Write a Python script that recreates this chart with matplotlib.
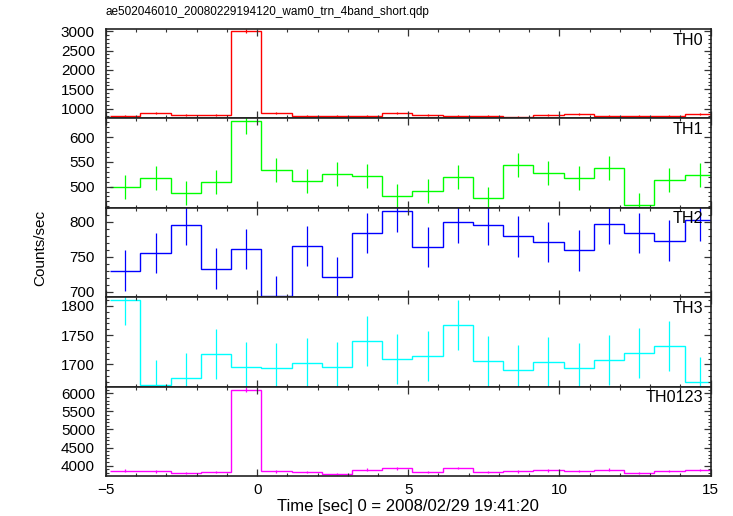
import numpy as np
import matplotlib
matplotlib.use("Agg")
import matplotlib.pyplot as plt
from matplotlib.ticker import MultipleLocator

plt.rcParams['font.family'] = ['Liberation Sans', 'DejaVu Sans']

# bin edges of the light curves (1 s bins)
t0 = -4.86
n_bins = 20
edges = t0 + np.arange(n_bins + 1) * 1.0
centers = edges[:-1] + 0.5

title = "ae502046010_20080229194120_wam0_trn_4band_short.qdp"
bands = ["TH0", "TH1", "TH2", "TH3", "TH0123"]
colors = ["#ff0000", "#00ff00", "#0000ff", "#00ffff", "#ff00ff"]

th0 = [807, 893, 824, 824, 3017, 884, 807, 807, 807, 893,
       833, 807, 815, 790, 841, 867, 807, 807, 807, 867]
th0_err = [25] * 20
th0_err[4] = 50

th1 = [499, 518, 487, 509, 633, 533, 511, 525, 521, 481,
       491, 520, 476, 543, 527, 517, 537, 463, 513, 524]
th1_err = [24] * 20
th1_err[4] = 27

th2 = [730, 755, 796, 733, 761, 694, 765, 721, 784, 815,
       764, 799, 796, 779, 771, 759, 797, 784, 773, 802]
th2_err = [29] * 20

th3 = [1810, 1665, 1677, 1718, 1696, 1694, 1702, 1696, 1740, 1709,
       1715, 1767, 1706, 1691, 1704, 1693, 1707, 1719, 1731, 1670]
th3_err = [43] * 20

th0123 = [3860, 3842, 3797, 3815, 6105, 3842, 3815, 3770, 3887, 3923,
          3824, 3932, 3824, 3842, 3869, 3851, 3887, 3797, 3851, 3878]
th0123_err = [35] * 20
th0123_err[4] = 70

values = [th0, th1, th2, th3, th0123]
errors = [th0_err, th1_err, th2_err, th3_err, th0123_err]
ylims = [(745, 3060), (457, 638), (692, 820), (1662, 1815), (3710, 6190)]
majors = [500, 50, 50, 50, 500]
minors = [100, 10, 10, 10, 100]

fig = plt.figure(figsize=(7.33, 5.16), dpi=100)

left = 106 / 733
width = 604.5 / 733
top = 1 - 29 / 516
bottom = 1 - 476 / 516
h = (top - bottom) / 5

axes = []
for i in range(5):
    ax = fig.add_axes([left, top - (i + 1) * h, width, h])
    axes.append(ax)
    ax.stairs(values[i], edges, baseline=None, color=colors[i], linewidth=1.0)
    ax.errorbar(centers, values[i], yerr=errors[i], fmt='none',
                ecolor=colors[i], elinewidth=0.9, capsize=0)
    ax.set_xlim(-5, 15)
    ax.set_ylim(*ylims[i])
    ax.xaxis.set_major_locator(MultipleLocator(5))
    ax.xaxis.set_minor_locator(MultipleLocator(1))
    ax.yaxis.set_major_locator(MultipleLocator(majors[i]))
    ax.yaxis.set_minor_locator(MultipleLocator(minors[i]))
    ax.tick_params(which='both', direction='in', top=True, right=True,
                   color='#333333', labelsize=11)
    ax.tick_params(which='major', length=5, width=0.9)
    ax.tick_params(which='minor', length=2.5, width=0.8)
    ax.tick_params(axis='y', pad=8)
    ax.tick_params(axis='x', pad=5)
    for s in ax.spines.values():
        s.set_linewidth(1.2)
        s.set_color('#222222')
    ax.text(1 - 7.5 / 604.5, 0.96, bands[i], transform=ax.transAxes,
            ha='right', va='top', fontsize=11.6)
    if i < 4:
        ax.tick_params(labelbottom=False)

fig.text(left, 1 - 12 / 516, title, ha='left', va='center', fontsize=8.5)
fig.text(40 / 733, 1 - 248 / 516, "Counts/sec", rotation=90,
         ha='center', va='center', fontsize=11)
fig.text(408 / 733, 1 - 507 / 516, "Time [sec] 0 = 2008/02/29 19:41:20",
         ha='center', va='center', fontsize=12)

fig.savefig("out.png", dpi=100)
